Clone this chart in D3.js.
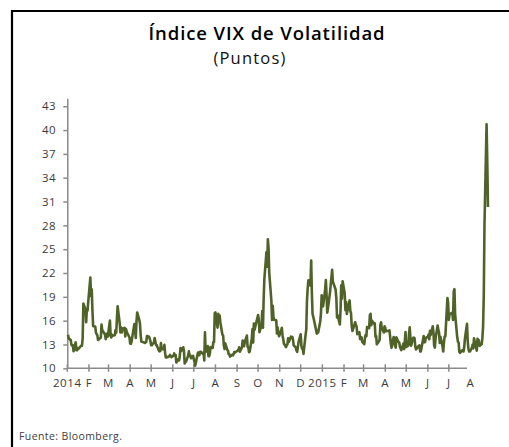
<!DOCTYPE html>
<html><head><meta charset="utf-8">
<script src="https://cdn.jsdelivr.net/npm/d3@7"></script>
<style>
html,body{margin:0;padding:0;background:#fff;}
svg{display:block;}
text{font-family:"Open Sans",sans-serif;}
</style></head>
<body>
<script>
// ---- data (VIX daily closes) ----
const dates = [
"2014-01-02","2014-01-03","2014-01-06","2014-01-07","2014-01-08","2014-01-09","2014-01-10","2014-01-13","2014-01-14","2014-01-15","2014-01-16","2014-01-17","2014-01-21","2014-01-22","2014-01-23","2014-01-24","2014-01-27","2014-01-28","2014-01-29","2014-01-30","2014-01-31",
"2014-02-03","2014-02-04","2014-02-05","2014-02-06","2014-02-07","2014-02-10","2014-02-11","2014-02-12","2014-02-13","2014-02-14","2014-02-18","2014-02-19","2014-02-20","2014-02-21","2014-02-24","2014-02-25","2014-02-26","2014-02-27","2014-02-28",
"2014-03-03","2014-03-04","2014-03-05","2014-03-06","2014-03-07","2014-03-10","2014-03-11","2014-03-12","2014-03-13","2014-03-14","2014-03-17","2014-03-18","2014-03-19","2014-03-20","2014-03-21","2014-03-24","2014-03-25","2014-03-26","2014-03-27","2014-03-28","2014-03-31",
"2014-04-01","2014-04-02","2014-04-03","2014-04-04","2014-04-07","2014-04-08","2014-04-09","2014-04-10","2014-04-11","2014-04-14","2014-04-15","2014-04-16","2014-04-17","2014-04-21","2014-04-22","2014-04-23","2014-04-24","2014-04-25","2014-04-28","2014-04-29","2014-04-30",
"2014-05-01","2014-05-02","2014-05-05","2014-05-06","2014-05-07","2014-05-08","2014-05-09","2014-05-12","2014-05-13","2014-05-14","2014-05-15","2014-05-16","2014-05-19","2014-05-20","2014-05-21","2014-05-22","2014-05-23","2014-05-27","2014-05-28","2014-05-29","2014-05-30",
"2014-06-02","2014-06-03","2014-06-04","2014-06-05","2014-06-06","2014-06-09","2014-06-10","2014-06-11","2014-06-12","2014-06-13","2014-06-16","2014-06-17","2014-06-18","2014-06-19","2014-06-20","2014-06-23","2014-06-24","2014-06-25","2014-06-26","2014-06-27","2014-06-30",
"2014-07-01","2014-07-02","2014-07-03","2014-07-07","2014-07-08","2014-07-09","2014-07-10","2014-07-11","2014-07-14","2014-07-15","2014-07-16","2014-07-17","2014-07-18","2014-07-21","2014-07-22","2014-07-23","2014-07-24","2014-07-25","2014-07-28","2014-07-29","2014-07-30","2014-07-31",
"2014-08-01","2014-08-04","2014-08-05","2014-08-06","2014-08-07","2014-08-08","2014-08-11","2014-08-12","2014-08-13","2014-08-14","2014-08-15","2014-08-18","2014-08-19","2014-08-20","2014-08-21","2014-08-22","2014-08-25","2014-08-26","2014-08-27","2014-08-28","2014-08-29",
"2014-09-02","2014-09-03","2014-09-04","2014-09-05","2014-09-08","2014-09-09","2014-09-10","2014-09-11","2014-09-12","2014-09-15","2014-09-16","2014-09-17","2014-09-18","2014-09-19","2014-09-22","2014-09-23","2014-09-24","2014-09-25","2014-09-26","2014-09-29","2014-09-30",
"2014-10-01","2014-10-02","2014-10-03","2014-10-06","2014-10-07","2014-10-08","2014-10-09","2014-10-10","2014-10-13","2014-10-14","2014-10-15","2014-10-16","2014-10-17","2014-10-20","2014-10-21","2014-10-22","2014-10-23","2014-10-24","2014-10-27","2014-10-28","2014-10-29","2014-10-30","2014-10-31",
"2014-11-03","2014-11-04","2014-11-05","2014-11-06","2014-11-07","2014-11-10","2014-11-11","2014-11-12","2014-11-13","2014-11-14","2014-11-17","2014-11-18","2014-11-19","2014-11-20","2014-11-21","2014-11-24","2014-11-25","2014-11-26","2014-11-28",
"2014-12-01","2014-12-02","2014-12-03","2014-12-04","2014-12-05","2014-12-08","2014-12-09","2014-12-10","2014-12-11","2014-12-12","2014-12-15","2014-12-16","2014-12-17","2014-12-18","2014-12-19","2014-12-22","2014-12-23","2014-12-24","2014-12-26","2014-12-29","2014-12-30","2014-12-31",
"2015-01-02","2015-01-05","2015-01-06","2015-01-07","2015-01-08","2015-01-09","2015-01-12","2015-01-13","2015-01-14","2015-01-15","2015-01-16","2015-01-20","2015-01-21","2015-01-22","2015-01-23","2015-01-26","2015-01-27","2015-01-28","2015-01-29","2015-01-30",
"2015-02-02","2015-02-03","2015-02-04","2015-02-05","2015-02-06","2015-02-09","2015-02-10","2015-02-11","2015-02-12","2015-02-13","2015-02-17","2015-02-18","2015-02-19","2015-02-20","2015-02-23","2015-02-24","2015-02-25","2015-02-26","2015-02-27",
"2015-03-02","2015-03-03","2015-03-04","2015-03-05","2015-03-06","2015-03-09","2015-03-10","2015-03-11","2015-03-12","2015-03-13","2015-03-16","2015-03-17","2015-03-18","2015-03-19","2015-03-20","2015-03-23","2015-03-24","2015-03-25","2015-03-26","2015-03-27","2015-03-30","2015-03-31",
"2015-04-01","2015-04-02","2015-04-06","2015-04-07","2015-04-08","2015-04-09","2015-04-10","2015-04-13","2015-04-14","2015-04-15","2015-04-16","2015-04-17","2015-04-20","2015-04-21","2015-04-22","2015-04-23","2015-04-24","2015-04-27","2015-04-28","2015-04-29","2015-04-30",
"2015-05-01","2015-05-04","2015-05-05","2015-05-06","2015-05-07","2015-05-08","2015-05-11","2015-05-12","2015-05-13","2015-05-14","2015-05-15","2015-05-18","2015-05-19","2015-05-20","2015-05-21","2015-05-22","2015-05-26","2015-05-27","2015-05-28","2015-05-29",
"2015-06-01","2015-06-02","2015-06-03","2015-06-04","2015-06-05","2015-06-08","2015-06-09","2015-06-10","2015-06-11","2015-06-12","2015-06-15","2015-06-16","2015-06-17","2015-06-18","2015-06-19","2015-06-22","2015-06-23","2015-06-24","2015-06-25","2015-06-26","2015-06-29","2015-06-30",
"2015-07-01","2015-07-02","2015-07-06","2015-07-07","2015-07-08","2015-07-09","2015-07-10","2015-07-13","2015-07-14","2015-07-15","2015-07-16","2015-07-17","2015-07-20","2015-07-21","2015-07-22","2015-07-23","2015-07-24","2015-07-27","2015-07-28","2015-07-29","2015-07-30","2015-07-31",
"2015-08-03","2015-08-04","2015-08-05","2015-08-06","2015-08-07","2015-08-10","2015-08-11","2015-08-12","2015-08-13","2015-08-14","2015-08-17","2015-08-18","2015-08-19","2015-08-20","2015-08-21","2015-08-24","2015-08-25","2015-08-26"
];
const vix = [
14.23,13.76,13.55,12.92,12.87,12.89,12.14,13.28,12.28,12.28,12.53,12.44,12.87,12.84,13.77,18.14,17.42,15.80,17.35,17.29,18.41,
21.44,19.11,19.95,17.23,15.29,15.26,14.51,14.30,14.14,13.57,13.87,15.50,14.79,14.68,14.23,13.67,14.35,14.04,14.00,
16.00,14.10,13.89,14.21,14.11,14.20,14.80,14.47,16.22,17.82,15.64,14.52,15.12,14.52,15.00,15.09,14.02,14.93,14.62,14.41,13.88,
13.10,13.09,13.37,13.96,15.57,14.89,13.82,15.89,17.03,16.11,15.61,14.18,13.36,13.25,13.19,13.27,13.32,14.06,13.97,13.71,13.41,
12.91,12.91,13.29,13.80,13.40,12.92,12.92,12.23,12.13,12.17,13.17,12.44,12.42,12.96,11.91,11.36,11.36,11.51,11.68,11.57,11.40,
11.58,11.87,11.68,11.68,10.73,11.15,10.99,11.60,12.56,12.18,12.65,12.06,10.61,10.85,10.85,11.63,12.13,11.59,11.63,11.26,11.57,
11.15,10.82,10.32,11.98,11.98,11.65,12.08,12.08,11.82,11.96,11.00,14.54,12.06,12.81,11.52,11.52,11.84,12.69,12.56,13.28,13.33,16.95,
17.03,15.12,16.87,16.37,16.66,15.77,14.23,14.13,12.90,12.42,13.15,12.32,12.21,11.78,11.76,11.47,11.70,11.63,11.78,12.05,11.98,
12.25,12.36,12.64,12.09,12.66,13.50,12.88,12.80,13.31,14.12,12.73,12.65,12.03,12.11,13.69,14.93,13.27,15.64,14.85,15.98,16.31,
16.71,16.16,14.55,15.46,17.20,15.11,18.76,21.24,24.64,22.79,26.25,25.20,21.99,18.57,16.08,17.87,16.53,16.11,16.04,14.39,15.15,14.52,14.03,
14.73,15.10,14.17,13.67,13.12,12.67,12.92,13.02,13.79,13.31,13.99,13.86,13.96,13.58,12.90,12.62,12.25,12.07,13.33,
14.29,12.85,12.47,12.38,11.82,14.21,14.89,18.53,20.08,21.08,20.42,23.57,19.44,16.81,16.49,15.25,14.80,14.37,14.50,15.92,16.91,19.20,
17.79,19.92,21.12,19.31,17.01,17.55,19.60,20.56,21.48,22.39,20.95,19.89,18.85,16.40,16.66,15.52,17.22,20.44,18.76,20.97,
19.43,17.33,18.33,16.85,17.29,18.55,17.23,16.96,15.34,14.69,15.80,15.45,15.29,14.30,14.56,13.69,13.84,13.91,13.34,
13.04,13.86,14.23,14.04,15.20,15.06,16.69,16.87,15.42,16.00,15.61,15.66,13.97,14.07,13.02,13.41,13.62,15.44,15.80,15.07,14.51,15.29,
15.11,14.67,14.74,14.78,13.98,13.09,12.58,13.94,13.67,12.84,12.60,13.89,13.30,13.25,12.71,12.48,12.29,13.12,12.41,13.39,14.55,
12.70,12.85,14.31,15.15,13.86,12.86,13.85,13.86,13.76,12.74,12.38,12.73,12.85,12.88,12.11,12.13,14.06,13.27,13.31,13.84,
13.97,14.24,13.66,14.71,14.21,15.29,14.47,12.85,12.61,13.78,15.39,14.81,14.50,13.19,13.96,12.74,12.11,13.26,14.01,14.02,18.85,18.23,
16.09,16.79,17.01,16.09,19.66,19.97,16.83,13.90,13.37,13.23,12.11,11.95,12.25,12.22,12.12,12.64,13.74,15.60,13.44,12.50,12.13,12.12,
12.56,13.00,12.51,13.77,13.39,12.23,13.71,13.61,13.49,12.83,13.02,13.79,15.25,19.14,28.03,40.74,36.02,30.32
];
const yTicks = [10,13,16,19,22,25,28,31,34,37,40,43];
const monthTicks = ["2014-01-01","2014-02-01","2014-03-01","2014-04-01","2014-05-01","2014-06-01","2014-07-01","2014-08-01","2014-09-01","2014-10-01","2014-11-01","2014-12-01","2015-01-01","2015-02-01","2015-03-01","2015-04-01","2015-05-01","2015-06-01","2015-07-01","2015-08-01"];
const monthLabels = ["2014","F","M","A","M","J","J","A","S","O","N","D","2015","F","M","A","M","J","J","A"];
const title = "Índice VIX de Volatilidad";
const subtitle = "(Puntos)";
const source = "Fuente: Bloomberg.";

// ---- chart ----
const W = 509, H = 447;
const parse = d3.timeParse("%Y-%m-%d");
const data = dates.map((d,i)=>({date:parse(d), v:vix[i]}));
const ticks = monthTicks.map(parse);

const svg = d3.select("body").append("svg").attr("width",W).attr("height",H);

// frame
svg.append("path").attr("d","M12,460 L12,11 L520,11")
  .attr("fill","none").attr("stroke","#000").attr("stroke-width",2.2);

svg.append("text").attr("x",267).attr("y",40).attr("text-anchor","middle")
  .attr("font-size",18.5).attr("font-weight",600).attr("letter-spacing",0.9).attr("fill","#000").text(title);
svg.append("text").attr("x",250).attr("y",64).attr("text-anchor","middle")
  .attr("font-size",16.5).attr("letter-spacing",1.2).attr("fill","#111").text(subtitle);
svg.append("text").attr("x",19).attr("y",440)
  .attr("font-size",10.5).attr("letter-spacing",0.4).attr("fill","#404040").text(source);

const x = d3.scaleTime().domain([parse("2014-01-01"), parse("2015-08-01")]).range([67.3, 470.5]);
const y = d3.scaleLinear().domain([10,44]).range([368.3, 98.3]);
const axisEnd = parse("2015-07-27");
const gray = "#8a8a8a";

// y axis
const yAxis = d3.axisLeft(y).tickValues(yTicks).tickSize(4).tickSizeOuter(0).tickPadding(7);
const gy = svg.append("g").attr("transform","translate(67.3,0)").call(yAxis);
gy.select(".domain").attr("stroke",gray).attr("stroke-width",1.5);
gy.selectAll(".tick line").attr("stroke",gray).attr("stroke-width",1.5);
gy.selectAll(".tick text").attr("font-family","'Open Sans',sans-serif").attr("font-size",11.5)
  .attr("letter-spacing",0.6).attr("fill","#3a3a3a");

// x axis
const gx = svg.append("g").attr("transform",`translate(0,${y(10)})`);
gx.append("line").attr("x1",x(ticks[0])).attr("x2",x(axisEnd))
  .attr("stroke",gray).attr("stroke-width",1.5);
gx.selectAll("line.tk").data(ticks.slice(0,-1)).join("line").attr("class","tk")
  .attr("x1",d=>x(d)).attr("x2",d=>x(d)).attr("y1",-4).attr("y2",3.5)
  .attr("stroke",gray).attr("stroke-width",1.5);
gx.selectAll("text").data(ticks).join("text")
  .attr("x",d=>x(d)).attr("y",19).attr("text-anchor","middle")
  .attr("font-size",11.5).attr("letter-spacing",0.6).attr("fill","#3a3a3a")
  .text((d,i)=>monthLabels[i]);

// line
const line = d3.line().x(d=>x(d.date)).y(d=>y(d.v));
svg.append("path").datum(data).attr("d",line).attr("fill","none")
  .attr("stroke","#4f6228").attr("stroke-width",2.6).attr("stroke-linejoin","round");
</script>
</body></html>
